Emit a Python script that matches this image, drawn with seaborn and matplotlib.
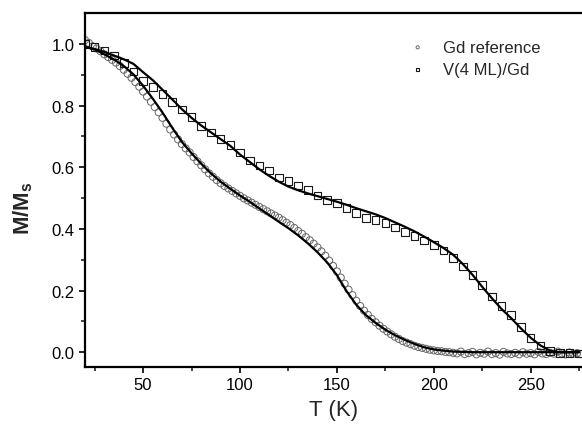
import numpy as np
import pandas as pd
import matplotlib
matplotlib.use("Agg")
import matplotlib.pyplot as plt
import seaborn as sns

# ---- measured data: Gd reference (circles), 2 K steps ----
t_gd = list(range(20, 277, 2))
m_gd = [1.012, 1.003, 0.992, 0.985, 0.976, 0.966, 0.957, 0.948, 0.939, 0.928,
        0.916, 0.903, 0.890, 0.876, 0.861, 0.845, 0.829, 0.812, 0.795, 0.778,
        0.760, 0.741, 0.722, 0.706, 0.690, 0.675, 0.661, 0.648, 0.633, 0.619,
        0.606, 0.593, 0.580, 0.569, 0.558, 0.548, 0.539, 0.531, 0.523, 0.515,
        0.507, 0.499, 0.492, 0.485, 0.478, 0.471, 0.464, 0.457, 0.450, 0.443,
        0.436, 0.428, 0.420, 0.412, 0.403, 0.393, 0.384, 0.373, 0.363, 0.352,
        0.340, 0.327, 0.313, 0.297, 0.280, 0.262, 0.242, 0.222, 0.203, 0.185,
        0.167, 0.150, 0.135, 0.121, 0.108, 0.097, 0.086, 0.076, 0.067, 0.058,
        0.050, 0.043, 0.036, 0.031, 0.026, 0.021, 0.017, 0.014, 0.011, 0.008,
        0.006, 0.004, 0.003, 0.001, 0.000, -0.002, -0.004, 0.002, -0.006, -0.003,
        0.001, -0.007, -0.002, -0.005, 0.002, -0.006, -0.003, -0.008, 0.001, -0.004,
        -0.006, -0.002, -0.007, 0.000, -0.005, -0.003, -0.007, 0.001, -0.004, -0.006,
        -0.002, -0.005, 0.002, -0.004, -0.007, -0.001, -0.005, -0.003, -0.006]

# ---- measured data: V(4 ML)/Gd (squares), 5 K steps ----
t_v = list(range(20, 276, 5))
m_v = [1.000, 0.990, 0.978, 0.962, 0.938, 0.910, 0.880, 0.860, 0.838, 0.812,
       0.787, 0.763, 0.733, 0.713, 0.692, 0.672, 0.648, 0.622, 0.606, 0.589,
       0.566, 0.555, 0.541, 0.526, 0.508, 0.494, 0.484, 0.468, 0.452, 0.436,
       0.428, 0.418, 0.404, 0.390, 0.376, 0.362, 0.348, 0.330, 0.306, 0.278,
       0.250, 0.218, 0.180, 0.150, 0.120, 0.082, 0.046, 0.022, 0.004, -0.002,
       -0.003, -0.004]

# ---- fit curves (solid lines), 5 K steps ----
t_fit = list(range(20, 276, 5))
fit_gd = [0.990, 0.982, 0.966, 0.949, 0.928, 0.901, 0.864, 0.822, 0.777, 0.728,
          0.682, 0.645, 0.611, 0.580, 0.553, 0.530, 0.508, 0.488, 0.466, 0.445,
          0.423, 0.402, 0.379, 0.353, 0.324, 0.291, 0.250, 0.198, 0.154, 0.120,
          0.095, 0.073, 0.055, 0.040, 0.027, 0.016, 0.009, 0.005, 0.002, 0.001,
          0.0, 0.0, 0.0, 0.0, 0.0, 0.0, 0.0, 0.0, 0.0, 0.0,
          0.0, 0.0]
fit_v = [0.990, 0.983, 0.974, 0.962, 0.950, 0.935, 0.908, 0.882, 0.851, 0.820,
         0.788, 0.760, 0.735, 0.713, 0.691, 0.669, 0.641, 0.617, 0.593, 0.572,
         0.553, 0.537, 0.525, 0.515, 0.506, 0.497, 0.488, 0.478, 0.467, 0.457,
         0.447, 0.435, 0.421, 0.407, 0.392, 0.375, 0.357, 0.338, 0.316, 0.286,
         0.251, 0.212, 0.175, 0.140, 0.110, 0.077, 0.047, 0.022, 0.005, 0.0,
         0.0, 0.0]

sns.set_style("ticks")
plt.rcParams['font.family'] = ['Liberation Sans', 'DejaVu Sans']

fig = plt.figure(figsize=(5.82, 4.35), dpi=100)
ax = fig.add_axes([85 / 582, 67 / 435, 497 / 582, 354 / 435])

sns.scatterplot(x=t_gd, y=m_gd, ax=ax, marker='o', s=26, fc='none',
                ec='0.4', linewidth=0.7, zorder=2)
pts_gd = ax.collections[-1]
sns.scatterplot(x=t_v, y=m_v, ax=ax, marker='s', s=30, fc='none',
                ec='0.1', linewidth=0.8, zorder=2)
pts_v = ax.collections[-1]

sns.lineplot(x=t_fit, y=fit_gd, ax=ax, color='black', linewidth=1.6, zorder=3)
sns.lineplot(x=t_fit, y=fit_v, ax=ax, color='black', linewidth=1.6, zorder=3)

ax.set_xlim(20, 276.5)
ax.set_ylim(-0.048, 1.10)
ax.set_xticks([50, 100, 150, 200, 250])
ax.set_xticks(np.arange(25, 276, 25), minor=True)
ax.set_yticks([0.0, 0.2, 0.4, 0.6, 0.8, 1.0])
ax.set_yticks(np.arange(0.0, 1.05, 0.1), minor=True)
ax.set_yticklabels(['0.0', '0.2', '0.4', '0.6', '0.8', '1.0'])

ax.tick_params(which='major', direction='out', length=4, width=1.2,
               labelsize=12, colors='black')
ax.tick_params(which='minor', direction='out', length=3, width=1.2)
for side in ['left', 'bottom', 'top']:
    ax.spines[side].set_visible(True)
    ax.spines[side].set_linewidth(1.6)
    ax.spines[side].set_color('black')
ax.spines['right'].set_visible(False)

ax.set_xlabel('T (K)', fontsize=16, labelpad=5)
ax.set_ylabel('M/M$_\\mathregular{s}$', fontsize=16, fontweight='bold')
ax.yaxis.set_label_coords(-0.1, 0.45)

ax.legend([pts_gd, pts_v], ['Gd reference', 'V(4 ML)/Gd'], frameon=False,
          loc='upper left', bbox_to_anchor=(0.614, 0.967), fontsize=12,
          markerscale=0.45, handlelength=1.5, handletextpad=0.8,
          labelspacing=0.42)

fig.savefig('out.png', dpi=100)
